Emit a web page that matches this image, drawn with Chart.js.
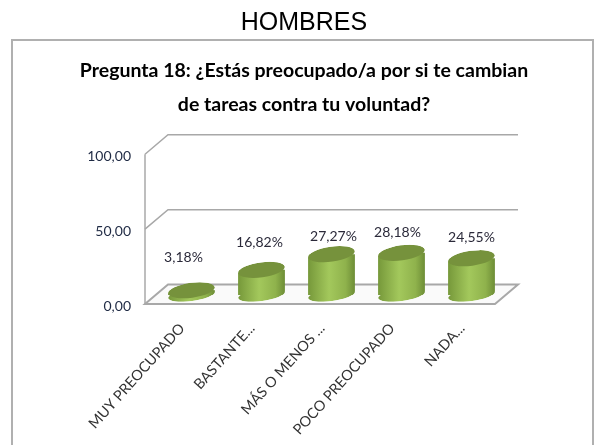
<!DOCTYPE html>
<html>
<head>
<meta charset="utf-8">
<style>
html,body{margin:0;padding:0;background:#fff;}
#wrap{position:relative;width:596px;height:445px;}
</style>
<script src="https://cdn.jsdelivr.net/npm/chart.js@4"></script>
</head>
<body>
<div id="wrap"><canvas id="c" width="596" height="445"></canvas></div>
<script>
// --- Data ---
const categories = ['MUY PREOCUPADO','BASTANTE...','MÁS O MENOS ...','POCO PREOCUPADO','NADA...'];
const values = [3.18,16.82,27.27,28.18,24.55];
const valueLabels = ['3,18%','16,82%','27,27%','28,18%','24,55%'];
const yTicks = [0,50,100];

// --- Look ---
const DEPTH_X = 23, DEPTH_Y = 19.5;      // floor depth of the fake 3D box
const BAR_DX = 11.5, BAR_DY = -9;        // bars stand mid depth
const LABEL_DX = [-8,-2,2,-4,0], LABEL_DY = [-33,-27,-18,-20,-21]; // hand placed in the original
const TILT = 8*Math.PI/180;
const TOP_RY = 7.5, BOTTOM_RY = 6;
const FONT = 'Lato, "Open Sans", sans-serif';
const LINE = '#a8a8a8';

function ellipse(ctx, x, y, rx, ry, fill){
  ctx.beginPath();
  ctx.ellipse(x, y, rx, ry, -TILT, 0, Math.PI*2);
  ctx.fillStyle = fill;
  ctx.fill();
}
function sideGradient(ctx, x, w){
  const g = ctx.createLinearGradient(x-w/2, 0, x+w/2, 0);
  g.addColorStop(0, '#76983a');
  g.addColorStop(0.45, '#a3c85c');
  g.addColorStop(0.8, '#8fb24c');
  g.addColorStop(1, '#6d8d36');
  return g;
}
// the bars are plain rectangles, cut their corners so they follow the tilted caps
function clipToCylinders(ctx, bars){
  ctx.beginPath();
  bars.forEach(b=>{
    const r = b.width/2, s = r*Math.tan(TILT);
    ctx.moveTo(b.x-r, b.base+s);
    ctx.lineTo(b.x-r, b.y+s);
    ctx.lineTo(b.x+r, b.y-s);
    ctx.lineTo(b.x+r, b.base-s);
    ctx.closePath();
    ctx.moveTo(b.x+r, b.base);
    ctx.ellipse(b.x, b.base, r, BOTTOM_RY, -TILT, 0, Math.PI*2);
    ctx.closePath();
    ctx.moveTo(b.x+r, b.y);
    ctx.ellipse(b.x, b.y, r, TOP_RY, -TILT, 0, Math.PI*2);
    ctx.closePath();
  });
  ctx.clip();
}

// --- Plugin: frame, walls and cylinder caps ---
const box3d = {
  id:'box3d',
  beforeDraw(chart){
    const {ctx, chartArea:a, scales:{y}} = chart;
    ctx.save();
    ctx.strokeStyle = '#b0b0b0'; ctx.lineWidth = 2;
    ctx.beginPath(); ctx.moveTo(12,445); ctx.lineTo(12,40); ctx.lineTo(593,40); ctx.lineTo(593,445); ctx.stroke();
    // floor
    ctx.strokeStyle = LINE; ctx.lineWidth = 2;
    const y0 = y.getPixelForValue(0);
    ctx.fillStyle = '#fafafa';
    ctx.beginPath();
    ctx.moveTo(a.left,y0); ctx.lineTo(a.right,y0); ctx.lineTo(a.right+DEPTH_X,y0-DEPTH_Y); ctx.lineTo(a.left+DEPTH_X,y0-DEPTH_Y); ctx.closePath();
    ctx.fill(); ctx.stroke();
    // walls
    ctx.lineWidth = 1.5;
    ctx.beginPath(); ctx.moveTo(a.left,y0); ctx.lineTo(a.left,a.top); ctx.stroke();
    yTicks.forEach(t=>{
      if(t===0) return;
      const p = y.getPixelForValue(t);
      ctx.beginPath(); ctx.moveTo(a.left,p); ctx.lineTo(a.left+DEPTH_X,p-DEPTH_Y); ctx.lineTo(a.right+DEPTH_X,p-DEPTH_Y); ctx.stroke();
    });
    ctx.restore();
  },
  beforeDatasetsDraw(chart){
    const {ctx} = chart;
    const bars = chart.getDatasetMeta(0).data;
    ctx.save();
    ctx.translate(BAR_DX, BAR_DY);
    clipToCylinders(ctx, bars);
    bars.forEach(b=>{
      ellipse(ctx, b.x, b.base, b.width/2, BOTTOM_RY, sideGradient(ctx, b.x, b.width));
    });
  },
  afterDatasetsDraw(chart){
    const {ctx} = chart;
    chart.getDatasetMeta(0).data.forEach(b=>{
      ellipse(ctx, b.x, b.y, b.width/2, TOP_RY, '#76923c');
    });
    ctx.restore();
    ctx.save();
    ctx.font = '14px '+FONT;
    ctx.fillStyle = '#2b2a3a';
    ctx.textAlign = 'center'; ctx.textBaseline = 'middle';
    chart.getDatasetMeta(0).data.forEach((b,i)=>{
      ctx.fillText(valueLabels[i], b.x+BAR_DX+LABEL_DX[i], b.y+BAR_DY+LABEL_DY[i]);
    });
    ctx.restore();
  }
};

new Chart(document.getElementById('c'), {
  type:'bar',
  data:{
    labels:categories,
    datasets:[{
      data:values,
      borderWidth:0,
      barPercentage:0.67,
      categoryPercentage:1,
      backgroundColor(c){
        const sx = c.chart.scales.x;
        if(!sx || !Number.isInteger(c.dataIndex) || !sx.width) return '#8fb24c';
        const px = sx.getPixelForValue(c.dataIndex);
        if(!Number.isFinite(px)) return '#8fb24c';
        const w = (sx.width/categories.length)*0.67;
        return sideGradient(c.chart.ctx, px, w);
      }
    }]
  },
  options:{
    responsive:false,
    animation:false,
    layout:{padding:{left:12,right:0,top:4,bottom:0}},
    plugins:{
      legend:{display:false},
      tooltip:{enabled:false},
      title:{
        display:true,
        text:'HOMBRES',
        color:'#000',
        font:{family:'"Liberation Sans", Arial, sans-serif',size:25,weight:'normal'},
        padding:{top:4,bottom:16}
      },
      subtitle:{
        display:true,
        text:['Pregunta 18: ¿Estás preocupado/a por si te cambian','de tareas contra tu voluntad?'],
        color:'#000',
        font:{family:FONT,size:19.5,weight:'bold',lineHeight:1.75},
        padding:{top:0,bottom:32}
      }
    },
    scales:{
      x:{
        grid:{display:false},
        border:{display:false},
        afterFit(s){ s.height = 141; },
        ticks:{
          autoSkip:false,minRotation:48,maxRotation:48,padding:8,labelOffset:2,
          color:'#333',font:{family:FONT,size:14.5}
        }
      },
      y:{
        min:0,max:100,
        grid:{display:false},
        border:{display:false},
        afterFit(s){ s.width = 133; },
        afterBuildTicks(s){ s.ticks = yTicks.map(v=>({value:v})); },
        ticks:{
          padding:6,labelOffset:2,color:'#1f2a44',font:{family:FONT,size:14},
          callback:v=>v.toFixed(2).replace('.',',')
        }
      },
      // empty axis, only keeps the space right of the box
      yRight:{
        position:'right',
        grid:{display:false},
        border:{display:false},
        ticks:{display:false},
        afterFit(s){ s.width = 101; }
      }
    }
  },
  plugins:[box3d]
});
</script>
</body>
</html>
